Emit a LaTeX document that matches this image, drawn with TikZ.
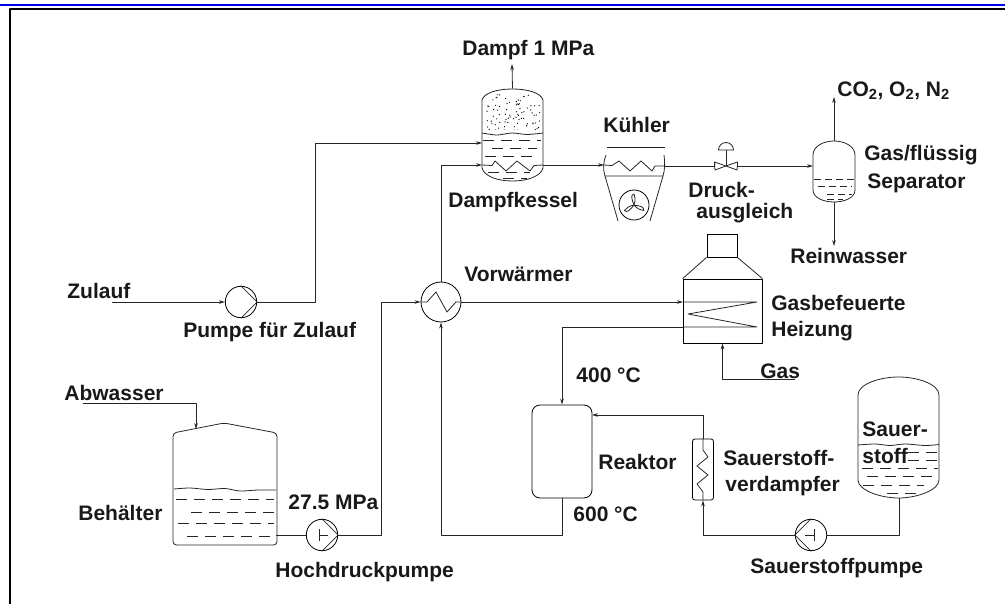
\documentclass[tikz,border=0pt]{standalone}
\usepackage{fontspec}
\setmainfont{Liberation Sans}
\usepackage{tikz}
\usetikzlibrary{arrows.meta}

\begin{document}
\begin{tikzpicture}[x=1pt, y=-1pt, line width=0.8pt, line join=round,
		label_style/.style={anchor=west,inner sep=0pt,text=black!90,font=\fontsize{21}{21}\selectfont\bfseries},
		pump_style/.style={circle,draw=black,fill=white,minimum size=31.4pt,inner sep=0pt},
		hx_style/.style={circle,draw=black,minimum size=40pt,inner sep=0pt},
		box_style/.style={rectangle,draw=black,inner sep=0pt},
		anchor_style/.style={rectangle,inner sep=0pt},
		edge_style/.style={draw=black!85},
		flow_style/.style={draw=black!85,-{Stealth[length=6pt,width=3.6pt]}},
		level_style/.style={draw=black!85,dash pattern=on 11pt off 7pt}]
		
		\useasboundingbox (0,0) rectangle (1005,604);
		
		% page rules
		\draw[blue!90!black,line width=2pt] (0,5) -- (1005,5);
		\draw[black,line width=2.4pt] (10,604) -- (10,9) -- (1005,9);
		
		% equipment
		\node[anchor_style,minimum width=61pt,minimum height=92pt] (drum) at (512.5,135) {};
		\node[anchor_style,minimum width=61pt,minimum height=21pt] (cooler) at (634.5,165.5) {};
		\node[circle,draw=black,minimum size=30pt,inner sep=0pt] (fan) at (634,205) {};
		\node[anchor_style,minimum width=42pt,minimum height=61pt] (sep) at (834,171.5) {};
		\node[anchor_style,minimum width=22pt,minimum height=8pt] (valve) at (726,166) {};
		\node[pump_style] (p0) at (241,302) {};
		\node[pump_style] (p1) at (322,535) {};
		\node[pump_style] (p2) at (811,535) {};
		\node[hx_style] (hx) at (441,302) {};
		\node[box_style,minimum width=79pt,minimum height=64pt] (heater) at (722.5,311) {};
		\node[box_style,minimum width=30pt,minimum height=23pt] (stack) at (722,245.5) {};
		\node[box_style,rounded corners=8pt,minimum width=60pt,minimum height=93pt] (reactor) at (562,451.5) {};
		\node[box_style,rounded corners=2.5pt,minimum width=21pt,minimum height=61pt] (evap) at (703,469.5) {};
		\node[anchor_style,minimum width=104pt,minimum height=122pt] (tank) at (225,484) {};
		\node[anchor_style,minimum width=81pt,minimum height=121pt] (otank) at (898.5,437.5) {};
		
		% labels
		\node[label_style] (t0) at (462,50) {Dampf 1 MPa};
		\node[label_style] (t1) at (603,125) {Kühler};
		\node[label_style] (t2) at (448,202) {Dampfkessel};
		\node[label_style] (t3) at (688,190) {Druck-};
		\node[label_style] (t4) at (696,213) {ausgleich};
		\node[label_style] (t5) at (864,155) {Gas/flüssig};
		\node[label_style] (t6) at (867,183) {Separator};
		\node[label_style] (t7) at (790,256) {Reinwasser};
		\node[label_style] (t8) at (837,91) {CO\textsubscript{2}, O\textsubscript{2}, N\textsubscript{2}};
		\node[label_style] (t9) at (464,274) {Vorwärmer};
		\node[label_style] (t10) at (771,303) {Gasbefeuerte};
		\node[label_style] (t11) at (771,331) {Heizung};
		\node[label_style] (t12) at (67,291) {Zulauf};
		\node[label_style] (t13) at (183,332) {Pumpe für Zulauf};
		\node[label_style] (t14) at (64,393) {Abwasser};
		\node[label_style] (t15) at (78,513) {Behälter};
		\node[label_style] (t16) at (288,502) {27.5 MPa};
		\node[label_style] (t17) at (275,572) {Hochdruckpumpe};
		\node[label_style] (t18) at (576,375) {400 °C};
		\node[label_style] (t19) at (573,514) {600 °C};
		\node[label_style] (t20) at (598,462) {Reaktor};
		\node[label_style] (t21) at (760,371) {Gas};
		\node[label_style] (t22) at (723,458) {Sauerstoff-};
		\node[label_style] (t23) at (725,486) {verdampfer};
		\node[label_style] (t24) at (862,429) {Sauer-};
		\node[label_style] (t25) at (862,456) {stoff};
		\node[label_style] (t26) at (750,568) {Sauerstoffpumpe};
		
		% free ends and ports
		\coordinate (c0) at (512,64);
		\coordinate (c1) at (834,97);
		\coordinate (c2) at (834,246);
		\coordinate (c3) at (112,302);
		\coordinate (c4) at (83,403);
		\coordinate (c5) at (196,429);
		\coordinate (c6) at (795,379);
		\coordinate (c7) at (482,143);
		\coordinate (c8) at (482,165);
		\coordinate (c9) at (543,165);
		\coordinate (c10) at (683,302);
		\coordinate (c11) at (683,327);
		\coordinate (c12) at (592,415);
		\coordinate (c13) at (604,165);
		\coordinate (c14) at (665,166);
		\coordinate (c15) at (276,535);
		\coordinate (c16) at (899,498);
		\coordinate (c17) at (813,166);
		
		% vessels
		\draw[edge_style] (482,100) .. controls (484,93) and (497,89) .. (512.5,89) .. controls (528,89) and (541,93) .. (543,100) -- (543,168) .. controls (541,176) and (528,181) .. (512.5,181) .. controls (497,181) and (484,176) .. (482,168) -- cycle;
		\draw[edge_style] (813,155) .. controls (813,146) and (824,141) .. (834,141) .. controls (844,141) and (855,146) .. (855,155) -- (855,190) .. controls (855,198) and (844,202) .. (834,202) .. controls (824,202) and (813,198) .. (813,190) -- cycle;
		\draw[edge_style] (858,395) .. controls (858,384) and (880,377) .. (898.5,377) .. controls (917,377) and (939,384) .. (939,395) -- (939,480) .. controls (939,490) and (917,498) .. (898.5,498) .. controls (880,498) and (858,490) .. (858,480) -- cycle;
		\draw[edge_style,rounded corners=3.5pt] (173,545) -- (173,433) -- (224,423) -- (277,433) -- (277,545) -- cycle;
		
		% liquid surfaces
		\draw[edge_style] plot[smooth] coordinates {(482,133) (497,135) (512,133) (527,134.5) (543,133)};
		\draw[edge_style] plot[smooth] coordinates {(174,489) (190,488) (208,489.5) (225,488.5) (240,491) (258,490) (276,490)};
		\draw[edge_style] plot[smooth] coordinates {(858,445) (875,444) (890,445.5) (905,444) (925,445.5) (939,444.5)};
		\foreach \xa/\xb/\ya in {483/541/140, 492/537/148, 485/538/156, 488/530/172, 503/527/178,
				176/274/499, 191/274/512, 178/274/523, 187/274/536,
				908/937/452, 908/937/460, 862/938/468, 867/934/476, 863/924/485, 887/924/493}
			\draw[level_style] (\xa,\ya) -- (\xb,\ya);
		\foreach \xa/\xb/\ya in {814/855/179, 818/852/186, 827/852/194, 827/843/199}
			\draw[draw=black!85,dash pattern=on 7pt off 4pt] (\xa,\ya) -- (\xb,\ya);
		
		% steam space
		\begin{scope}
			\clip (486,95) rectangle (540,130);
			\pgfmathsetseed{27}
			\foreach \i in {1,...,85}
				\fill[black] (486+54*rnd,93+38*rnd) circle (0.65pt);
		\end{scope}
		
		% coils
		\draw[edge_style] (c8) -- (492,165.5) -- (495,161) -- (506,171) -- (517,161) -- (530,171) -- (534,165.5) -- (c9);
		\draw[edge_style] (c13) -- (612,165.5) -- (619,161) -- (630,171) -- (641,161) -- (652,171) -- (655,166) -- (c14);
		\draw[edge_style] (hx.west) -- (427,302) -- (436,292) -- (447,312) -- (456,302) -- (hx.east);
		\draw[edge_style] (c10) -- (757,302) -- (688,314) -- (757,327) -- (c11);
		\draw[edge_style] (evap.north) -- (703,450) -- (708,457) -- (697,466) -- (708,475) -- (697,484) -- (703,492) -- (evap.south);
		
		% cooler and fan
		\draw[edge_style] (607,147) -- (665,147);
		\draw[edge_style] (606,155) .. controls (603,162) and (603,170) .. (605,176) -- (663,176) .. controls (665,170) and (665,162) .. (664,155);
		\draw[edge_style] (605,176) -- (618,221);
		\draw[edge_style] (663,176) -- (650,221);
		\foreach \a in {90,210,330}
			\draw[edge_style] (fan.center) .. controls ([shift={(\a+22:7pt)}]fan.center) and ([shift={(\a+18:11pt)}]fan.center) .. ([shift={(\a:11pt)}]fan.center) .. controls ([shift={(\a-10:8pt)}]fan.center) and ([shift={(\a-18:5pt)}]fan.center) .. (fan.center);
		
		% control valve
		\draw[edge_style] (valve.west) -- ++(0,-4) -- (valve.center) -- ++(-11,4) -- cycle;
		\draw[edge_style] (valve.east) -- ++(0,-4) -- (valve.center) -- ++(11,4) -- cycle;
		\draw[edge_style] (valve.center) -- (726,150);
		\draw[edge_style] (718.5,150) arc[start angle=180,end angle=0,radius=7.5pt] -- cycle;
		
		% pumps
		\draw[edge_style] (p0.north) -- (p0.east) -- (p0.south);
		\draw[edge_style] (p1.north) -- (p1.east) -- (p1.south);
		\draw[edge_style] (p2.north) -- (p2.west) -- (p2.south);
		\draw[edge_style] (319,529) -- (319,541);
		\draw[edge_style] (319,535) -- (328,535);
		\draw[edge_style] (814,529) -- (814,541);
		\draw[edge_style] (814,535) -- (805,535);
		
		% heater hood
		\draw[edge_style] (heater.north west) -- (stack.south west);
		\draw[edge_style] (heater.north east) -- (stack.south east);
		
		% process lines
		\draw[flow_style]  (drum.north) -- (c0);
		\draw[flow_style]  (c9) -- (c13);
		\draw[edge_style]  (c14) -- (valve.west);
		\draw[flow_style]  (valve.east) -- (c17);
		\draw[flow_style]  (sep.north) -- (c1);
		\draw[flow_style]  (sep.south) -- (c2);
		\draw[flow_style]  (c3) -- (p0.west);
		\draw[flow_style]  (p0.east) -| (315,143) -- (c7);
		\draw[flow_style]  (hx.north) |- (c8);
		\draw[edge_style]  (c15) -- (p1.west);
		\draw[flow_style]  (p1.east) -| (381,302) -- (hx.west);
		\draw[flow_style]  (hx.east) -- (c10);
		\draw[flow_style]  (c11) -| (reactor.north);
		\draw[flow_style]  (reactor.south) |- (441,535) -- (hx.south);
		\draw[flow_style]  (c6) -| (heater.south);
		\draw[flow_style]  (c4) -| (c5);
		\draw[flow_style]  (evap.north) |- (c12);
		\draw[flow_style]  (p2.west) -| (evap.south);
		\draw[edge_style]  (p2.east) -| (c16);
		
\end{tikzpicture}
\end{document}
